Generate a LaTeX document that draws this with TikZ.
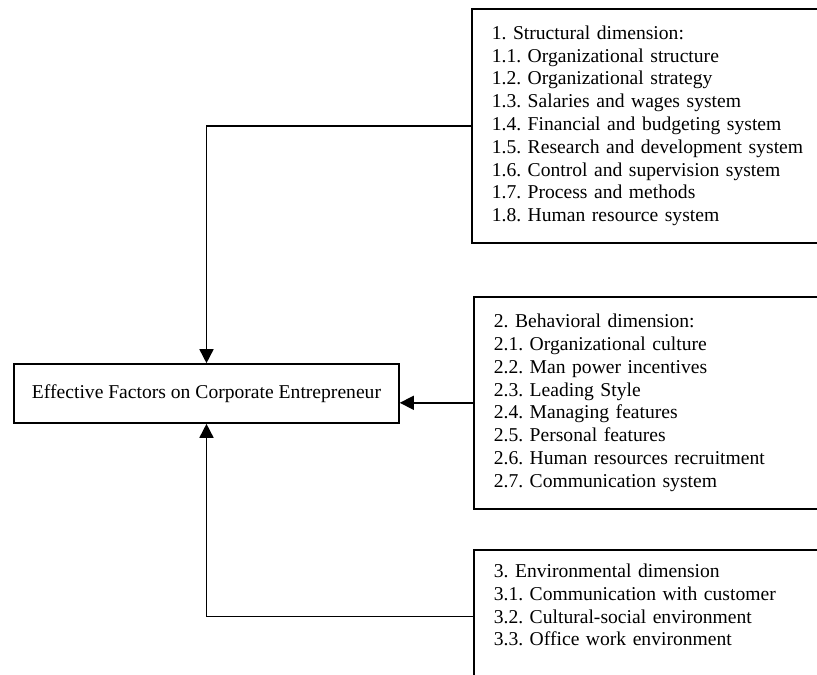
\documentclass[tikz,border=0pt]{standalone}
\usepackage{fontspec}
\setmainfont{Liberation Serif}
\usetikzlibrary{arrows.meta}
\frenchspacing

\begin{document}
\begin{tikzpicture}[x=1pt,y=-1pt,>={Triangle[length=14pt,width=14pt]},line width=1.6pt,
        font=\fontsize{19.6}{22.8}\selectfont,
        dimbox/.style={draw,anchor=north west,align=left,text width=319pt,inner xsep=20pt,minimum width=359pt}]
        \useasboundingbox (0,0) rectangle (817,675);
        \node[draw,minimum width=385pt,minimum height=59pt] (effect) at (206.5,393.5) {Effective Factors on Corporate Entrepreneur};
        \node[dimbox,minimum height=234pt] (struct) at (471,8) {1. Structural dimension:\\1.1. Organizational structure\\1.2. Organizational strategy\\1.3. Salaries and wages system\\1.4. Financial and budgeting system\\1.5. Research and development system\\1.6. Control and supervision system\\1.7. Process and methods\\1.8. Human resource system};
        \node[dimbox,minimum height=212pt] (behav) at (473,296) {2. Behavioral dimension:\\2.1. Organizational culture\\2.2. Man power incentives\\2.3. Leading Style\\2.4. Managing features\\2.5. Personal features\\2.6. Human resources recruitment\\2.7. Communication system};
        \node[dimbox,inner ysep=14pt,text depth=92pt] (envir) at (473,549) {3. Environmental dimension\\3.1. Communication with customer\\3.2. Cultural-social environment\\3.3. Office work environment};
        \draw[->] (struct.west) -| (effect.north);
        \draw[->] (behav.west) -- (behav.west -| effect.east);
        \draw[->] (envir.west) -| (effect.south);
    \end{tikzpicture}
\end{document}
